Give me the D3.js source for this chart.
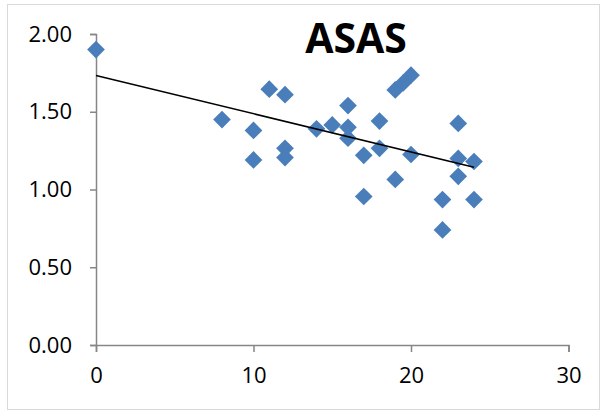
<!DOCTYPE html>
<html>
<head>
<meta charset="utf-8">
<script src="https://cdn.jsdelivr.net/npm/d3@7"></script>
<style>
  body { margin: 0; background: #fff; }
  svg text { font-family: "Open Sans", "Liberation Sans", sans-serif; fill: #000; }
</style>
</head>
<body>
<div id="chart"></div>
<script>
// valeurs
const xValues = [0, 8, 10, 10, 11, 12, 12, 12, 14, 15, 16, 16, 16, 17, 17, 18, 18, 19, 19, 19.5, 20, 20, 22, 22, 23, 23, 23, 24, 24];
const yValues = [1.90, 1.45, 1.38, 1.19, 1.645, 1.61, 1.265, 1.205, 1.39, 1.415, 1.54, 1.40, 1.33, 1.22, 0.955, 1.44, 1.265, 1.065, 1.64, 1.685, 1.735, 1.225, 0.935, 0.74, 1.425, 1.20, 1.085, 1.18, 0.935];
const xTicks = [0, 10, 20, 30];
const yTicks = [0, 0.5, 1, 1.5, 2];
const title = "ASAS";

const width = 606, height = 411;

const svg = d3.select("#chart").append("svg")
    .attr("width", width)
    .attr("height", height);

// cadre du graphique
svg.append("rect")
    .attr("x", 7.5).attr("y", 4.5)
    .attr("width", 592).attr("height", 405)
    .attr("fill", "#fff")
    .attr("stroke", "#d9d9d9")
    .attr("stroke-width", 1);

const x = d3.scaleLinear().domain([0, 30]).range([96, 568.5]);
const y = d3.scaleLinear().domain([0, 2]).range([345, 34]);

// axes
const xAxis = svg.append("g")
    .attr("transform", `translate(0,${y(0)})`)
    .call(d3.axisBottom(x).tickValues(xTicks).tickSize(7).tickPadding(17).tickFormat(d3.format("d")));

const yAxis = svg.append("g")
    .attr("transform", `translate(${x(0)},0)`)
    .call(d3.axisLeft(y).tickValues(yTicks).tickSize(6).tickPadding(18).tickFormat(d3.format(".2f")));

[xAxis, yAxis].forEach(function(g) {
    g.select(".domain").attr("stroke", "#868686").attr("stroke-width", 1.5);
    g.selectAll(".tick line").attr("stroke", "#868686").attr("stroke-width", 1.5);
    g.selectAll(".tick text").style("font-size", "22px").attr("fill", "#000");
});
xAxis.selectAll(".tick text").attr("dy", "0.62em");

// courbe de tendance (régression linéaire)
const data = xValues.map((v, i) => ({ x: v, y: yValues[i] }));
const mx = d3.mean(xValues), my = d3.mean(yValues);
const sxy = d3.sum(data, d => (d.x - mx) * (d.y - my));
const sxx = d3.sum(data, d => (d.x - mx) * (d.x - mx));
const slope = sxy / sxx;
const intercept = my - slope * mx;
const xMin = d3.min(xValues), xMax = d3.max(xValues);

// points en losange
svg.append("g")
    .selectAll("path")
    .data(data)
    .enter()
    .append("path")
    .attr("d", d3.symbol().type(d3.symbolDiamond2).size(200))
    .attr("transform", d => `translate(${x(d.x)},${y(d.y)})`)
    .attr("fill", "#4a7ebb");

svg.append("line")
    .attr("x1", x(xMin)).attr("y1", y(intercept + slope * xMin))
    .attr("x2", x(xMax)).attr("y2", y(intercept + slope * xMax))
    .attr("stroke", "#000")
    .attr("stroke-width", 1.6);

// titre
svg.append("text")
    .attr("x", 356)
    .attr("y", 53)
    .attr("text-anchor", "middle")
    .style("font-size", "41px")
    .style("font-weight", "bold")
    .text(title);
</script>
</body>
</html>
